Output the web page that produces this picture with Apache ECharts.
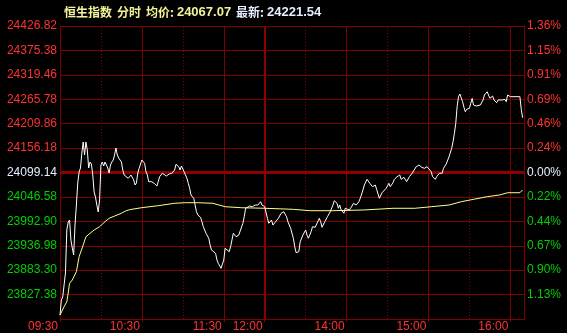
<!DOCTYPE html>
<html>
<head>
<meta charset="utf-8">
<script src="https://cdn.jsdelivr.net/npm/echarts@6/dist/echarts.min.js"></script>
<style>
html,body{margin:0;padding:0;background:#000;}
#c{width:567px;height:333px;}
</style>
</head>
<body>
<div id="c"></div>
<script>
// ---- data ----
const prevClose = 24099.14;
const topPrice = 24426.82;
const avgPriceText = '24067.07';
const lastPriceText = '24221.54';

// left price tick labels (bottom -> top)
const priceTickLabels = ['', '23827.38', '23883.30', '23936.98', '23992.90', '24046.58', '24099.14',
  '24156.18', '24209.86', '24265.78', '24319.46', '24375.38', '24426.82'];
// right percent tick labels (bottom -> top)
const pctTickLabels = ['', '1.13%', '0.90%', '0.67%', '0.44%', '0.22%', '0.00%',
  '0.24%', '0.46%', '0.69%', '0.91%', '1.15%', '1.36%'];

// time axis: minute index from 09:30 (lunch break removed)
const timeTickMinutes = [0, 60, 120, 150, 210, 270, 330];
const timeTickLabels = ['09:30', '10:30', '11:30', '12:00', '14:00', '15:00', '16:00'];
const solidGridMinutes = [60, 120, 210, 270, 330];
const dottedGridMinutes = [30, 90, 180, 240, 300];
const lunchMinute = 150;
const totalMinutes = 340;

// [minute, price] — last price
const priceSeries = [
  [0,23780.4],[1,23813.9],[2,23820.7],[3,23825.1],[4,23874.4],[5,23970.5],[6,23988.4],[7,23992.9],
  [8,23948.1],[9,23930.3],[10,23914.6],[11,23981.7],[12,24026.4],[13,24075.7],[14,24100.3],[15,24109.2],
  [16,24142.7],[17,24167.3],[18,24138.3],[19,24167.3],[20,24149.5],[21,24109.2],[22,24122.6],[23,24118.1],
  [24,24093.5],[25,24055.5],[26,24044.3],[27,24026.4],[28,24010.8],[29,24037.6],[30,24115.9],[31,24122.6],
  [32,24113.7],[33,24122.6],[34,24115.9],[35,24109.2],[36,24098.0],[37,24115.9],[38,24122.6],[39,24127.1],
  [40,24138.3],[41,24153.9],[42,24138.3],[43,24131.6],[44,24133.8],[45,24122.6],[46,24104.7],[47,24093.5],
  [48,24093.5],[50,24086.2],[52,24093.5],[54,24082.4],[55,24071.2],[56,24075.7],[57,24098.0],[58,24108.5],
  [59,24104.7],[60,24127.1],[62,24119.7],[63,24100.9],[64,24093.5],[65,24078.6],[67,24078.6],[69,24075.0],
  [71,24069.0],[72,24078.6],[73,24089.7],[75,24097.4],[76,24093.5],[78,24091.3],[80,24095.8],[82,24097.4],
  [84,24104.7],[85,24117.5],[87,24112.1],[88,24104.7],[89,24113.7],[90,24112.1],[92,24093.5],[93,24086.2],
  [94,24075.0],[95,24063.8],[96,24048.8],[98,24041.4],[99,24026.4],[100,24011.4],[101,24004.1],[103,23998.9],
  [104,23989.1],[105,23977.9],[107,23963.1],[109,23952.0],[110,23937.0],[111,23925.8],[112,23929.6],[114,23918.4],
  [115,23903.4],[116,23896.0],[118,23884.8],[119,23888.4],[120,23903.4],[121,23929.6],[122,23933.2],[124,23922.0],
  [125,23933.2],[126,23948.1],[127,23963.1],[129,23955.5],[130,23952.0],[131,23959.3],[132,23963.1],[134,23985.5],
  [135,24000.2],[136,24019.1],[137,24022.6],[139,24024.2],[141,24022.6],[143,24026.4],[144,24030.3],[145,24026.4],
  [147,24033.8],[148,24026.4],[150,24022.6],
  [152,23996.7],[153,23985.5],[155,23992.9],[156,23981.7],[158,23989.1],[160,23996.7],[162,24007.9],[164,24011.4],
  [166,24000.3],[167,23989.1],[169,23974.3],[171,23952.0],[172,23933.2],[173,23919.8],[175,23922.0],[176,23944.4],
  [178,23959.3],[180,23970.5],[181,23959.3],[182,23952.0],[184,23966.7],[185,23977.9],[187,23976.6],[188,23977.9],
  [190,23996.7],[191,23989.1],[192,23976.6],[194,23989.1],[196,24000.3],[198,24011.4],[200,24026.4],[201,24036.1],
  [203,24030.3],[204,24019.1],[205,24026.4],[206,24015.3],[208,24007.9],[209,24019.1],[210,24019.1],[212,24015.3],
  [214,24024.2],[215,24030.3],[217,24026.4],[219,24033.8],[220,24041.4],[222,24060.0],[223,24071.2],[225,24083.9],
  [227,24075.0],[229,24067.4],[231,24071.2],[232,24061.6],[234,24041.4],[236,24054.0],[237,24056.2],[239,24063.8],
  [241,24075.0],[242,24067.4],[244,24076.3],[245,24083.9],[247,24089.7],[249,24093.5],[250,24083.9],[252,24088.4],
  [254,24078.6],[256,24089.7],[258,24097.4],[259,24100.9],[261,24112.1],[263,24115.9],[265,24110.8],[267,24108.5],
  [269,24112.1],[270,24113.7],[272,24100.9],[273,24089.7],[275,24083.9],[276,24089.7],[278,24097.4],[279,24100.9],
  [280,24097.4],[281,24108.5],[283,24118.1],[285,24133.8],[287,24153.2],[288,24168.0],[289,24186.8],[290,24209.2],
  [291,24246.3],[292,24268.7],[293,24274.7],[294,24276.2],[295,24257.5],[296,24245.0],[297,24235.1],[298,24240.5],
  [300,24242.7],[301,24253.9],[302,24265.1],[303,24250.1],[304,24246.3],[305,24247.9],[306,24252.3],[308,24250.1],
  [309,24253.9],[310,24261.3],[311,24272.5],[313,24279.8],[314,24272.5],[315,24265.1],[316,24268.7],[317,24270.2],
  [318,24261.3],[320,24255.2],[321,24261.3],[322,24259.7],[324,24261.3],[325,24259.7],[326,24262.8],[327,24257.5],
  [328,24272.5],[330,24268.7],[337,24268.7],[338,24240.0],[339,24221.54]
];

// [minute, price] — average price
const avgSeries = [
  [0,23780.4],[3,23799.0],[5,23810.2],[6,23829.6],[7,23851.3],[9,23858.7],[12,23877.3],[14,23910.8],
  [17,23937.0],[19,23955.5],[22,23963.1],[25,23970.5],[29,23977.9],[33,23989.1],[36,23996.7],[40,24001.8],
  [45,24007.9],[48,24013.0],[51,24016.0],[60,24020.5],[72,24024.9],[84,24030.3],[92,24031.6],[101,24031.6],
  [112,24030.3],[121,24022.6],[133,24020.4],[150,24019.1],[171,24016.8],[183,24013.7],[200,24013.7],[223,24015.3],
  [244,24019.1],[260,24019.1],[272,24022.6],[285,24026.4],[294,24033.8],[303,24039.2],[313,24045.0],[322,24048.8],
  [328,24053.9],[337,24053.9],[339,24060.0]
];

// ---- chart ----
const RED = '#ff3232', GREEN = '#00d000', NEUTRAL = '#e6eeff';
const GRID = '#800000', GRID_THICK = '#8e0000';
const step = (topPrice - prevClose) / 6;

function tickRich(labels) {
  return function (v) {
    const i = Math.round(Number(v));
    const t = labels[i] || '';
    if (!t) return '';
    const k = i > 6 ? 'u' : (i < 6 ? 'd' : 'n');
    return '{' + k + '|' + t + '}';
  };
}
const tickRichStyles = {
  u: { color: RED, fontSize: 12, fontFamily: 'Liberation Sans, Arial' },
  d: { color: GREEN, fontSize: 12, fontFamily: 'Liberation Sans, Arial' },
  n: { color: NEUTRAL, fontSize: 12, fontFamily: 'Liberation Sans, Arial' }
};

const vLines = [];
solidGridMinutes.forEach(m => vLines.push({ xAxis: m, lineStyle: { color: GRID, width: 1, type: 'solid' } }));
dottedGridMinutes.forEach(m => vLines.push({ xAxis: m, lineStyle: { color: GRID, width: 1, type: [1, 2] } }));
vLines.push({ xAxis: lunchMinute, lineStyle: { color: GRID_THICK, width: 2, type: 'solid' } });
vLines.push({ yAxis: prevClose, lineStyle: { color: GRID_THICK, width: 3, type: 'solid' } });

const chart = echarts.init(document.getElementById('c'), null, { renderer: 'canvas' });
chart.setOption({
  backgroundColor: '#000',
  animation: false,
  title: {
    left: 59, top: 1,
    text: '{c|恒生指数}{g| }{c|分时}{g| }{c|均价:}{n|' + avgPriceText + '}{g| }{c2|最新:}{m|' + lastPriceText + '}',
    textStyle: {
      rich: {
        c: { color: '#f2f29a', fontSize: 12, fontFamily: 'Noto Sans CJK SC' },
        g: { fontSize: 12, width: 5 },
        n: { color: '#f2f29a', fontSize: 13, fontFamily: 'Liberation Sans, Arial', padding: [0, 0, 0, 3] },
        c2: { color: '#e6eeff', fontSize: 12, fontFamily: 'Noto Sans CJK SC' },
        m: { color: '#e6eeff', fontSize: 13, fontFamily: 'Liberation Sans, Arial', padding: [0, 0, 0, 3] }
      }
    }
  },
  grid: { left: 60, right: 43, top: 26, bottom: 14, containLabel: false },
  xAxis: [{
    type: 'value', min: 0, max: totalMinutes, interval: 30,
    axisLine: { show: true, lineStyle: { color: GRID, width: 1 } },
    axisTick: { show: true, length: 3, customValues: timeTickMinutes, lineStyle: { color: GRID } },
    splitLine: { show: false },
    axisLabel: {
      customValues: timeTickMinutes,
      color: RED, fontSize: 12, fontFamily: 'Liberation Sans, Arial',
      align: 'right', margin: 2, padding: [0, 2, 0, 0],
      formatter: function (v) {
        const i = timeTickMinutes.indexOf(Math.round(Number(v)));
        return i >= 0 ? timeTickLabels[i] : '';
      }
    }
  }],
  yAxis: [{
    type: 'value', min: prevClose - 6 * step, max: topPrice, show: false
  }, {
    type: 'value', position: 'left', min: 0, max: 12, interval: 1,
    axisLine: { show: true, lineStyle: { color: GRID } },
    axisTick: { show: false },
    splitLine: { show: true, lineStyle: { color: GRID, width: 1 } },
    axisLabel: { margin: 3, formatter: tickRich(priceTickLabels), rich: tickRichStyles }
  }, {
    type: 'value', position: 'right', min: 0, max: 12, interval: 1,
    axisLine: { show: true, lineStyle: { color: GRID } },
    axisTick: { show: false },
    splitLine: { show: false },
    axisLabel: { margin: 3, formatter: tickRich(pctTickLabels), rich: tickRichStyles }
  }],
  series: [{
    name: 'avg', type: 'line', xAxisIndex: 0, yAxisIndex: 0, data: avgSeries,
    showSymbol: false, symbol: 'none', z: 2, silent: true,
    lineStyle: { color: '#ffff88', width: 1 },
    markLine: { z: 1, silent: true, symbol: ['none', 'none'], label: { show: false }, animation: false, data: vLines }
  }, {
    name: 'price', type: 'line', xAxisIndex: 0, yAxisIndex: 0, data: priceSeries,
    showSymbol: false, symbol: 'none', z: 3, silent: true,
    lineStyle: { color: '#ffffff', width: 1 }
  }]
});
</script>
</body>
</html>
